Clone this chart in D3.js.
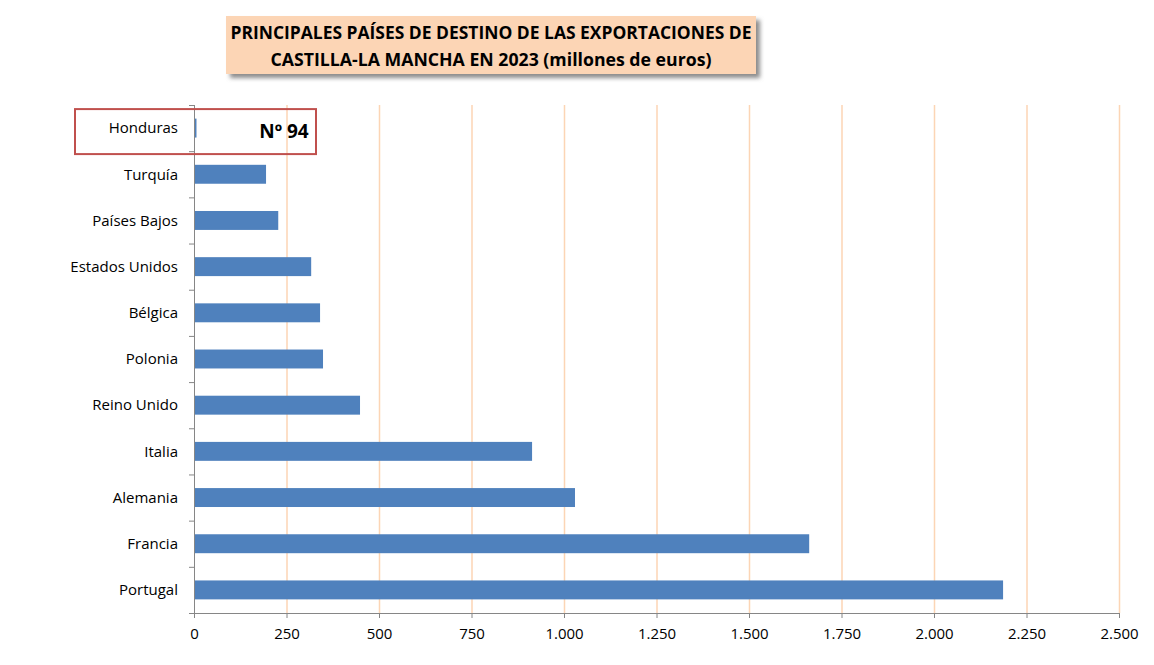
<!DOCTYPE html>
<html>
<head>
<meta charset="utf-8">
<script src="https://cdn.jsdelivr.net/npm/d3@7"></script>
<style>
  body { margin: 0; background: #fff; }
  text { font-family: "Open Sans", "Liberation Sans", sans-serif; fill: #000; }
</style>
</head>
<body>
<div id="chart"></div>
<script>
// data, top to bottom as drawn
var countries = ["Honduras", "Turquía", "Países Bajos", "Estados Unidos", "Bélgica",
                 "Polonia", "Reino Unido", "Italia", "Alemania", "Francia", "Portugal"];
var exports = [4, 192, 225, 314, 338, 346, 446, 911, 1027, 1660, 2184];
var xTicks = [0, 250, 500, 750, 1000, 1250, 1500, 1750, 2000, 2250, 2500];
var titleLines = ["PRINCIPALES PAÍSES DE DESTINO DE LAS EXPORTACIONES DE",
                  "CASTILLA-LA MANCHA EN 2023 (millones de euros)"];
var highlight = "Honduras", highlightLabel = "Nº 94";

var width = 1154, height = 665;
var margin = {top: 105, right: 35, bottom: 52, left: 194};

var data = countries.map(function(c, i) { return {country: c, value: exports[i]}; });

var svg = d3.select("#chart").append("svg")
    .attr("width", width)
    .attr("height", height);

var defs = svg.append("defs");
defs.append("filter")
    .attr("id", "shadow")
    .attr("x", "-5%").attr("y", "-20%")
    .attr("width", "110%").attr("height", "140%")
  .append("feGaussianBlur")
    .attr("stdDeviation", 2);

var x = d3.scaleLinear()
    .domain([0, 2500])
    .range([margin.left, 1119]);

var y = d3.scaleBand()
    .domain(countries)
    .range([margin.top, height - margin.bottom])
    .paddingInner(0.59)
    .paddingOuter(0.295);

var fmt = d3.format(",.0f");
var esFmt = function(d) { return fmt(d).replace(/,/g, "."); };

// grid
svg.append("g")
    .selectAll("line")
    .data(xTicks.slice(1))
    .enter().append("line")
    .attr("x1", function(d) { return x(d) + 0.5; })
    .attr("x2", function(d) { return x(d) + 0.5; })
    .attr("y1", margin.top)
    .attr("y2", height - margin.bottom)
    .attr("stroke", "#fcd5b5")
    .attr("stroke-width", 1.5);

// bars
svg.append("g")
    .selectAll("rect")
    .data(data)
    .enter().append("rect")
    .attr("x", x(0) + 1)
    .attr("y", function(d) { return y(d.country); })
    .attr("width", function(d) { return Math.max(x(d.value) - x(0), 1); })
    .attr("height", y.bandwidth())
    .attr("fill", "#4f81bd");

// x axis
var xAxis = svg.append("g")
    .attr("transform", "translate(0," + (height - margin.bottom) + ")")
    .call(d3.axisBottom(x).tickValues(xTicks).tickFormat(esFmt).tickSize(5).tickSizeOuter(0));
xAxis.select(".domain").attr("stroke", "#868686");
xAxis.selectAll(".tick line").attr("stroke", "#868686");
xAxis.selectAll(".tick text")
    .attr("dy", "0.75em")
    .attr("y", 15)
    .style("font-size", "15px")
    .style("font-family", "'Open Sans', sans-serif");

// y axis: ticks at band boundaries
var step = y.step();
svg.append("line")
    .attr("x1", x(0) + 0.5).attr("x2", x(0) + 0.5)
    .attr("y1", margin.top).attr("y2", height - margin.bottom)
    .attr("stroke", "#868686");
svg.append("g")
    .selectAll("line")
    .data(d3.range(countries.length + 1))
    .enter().append("line")
    .attr("x1", x(0) - 5).attr("x2", x(0))
    .attr("y1", function(i) { return margin.top + i * step + 0.5; })
    .attr("y2", function(i) { return margin.top + i * step + 0.5; })
    .attr("stroke", "#868686");

svg.append("g")
    .selectAll("text")
    .data(data)
    .enter().append("text")
    .attr("x", x(0) - 16)
    .attr("y", function(d) { return y(d.country) + y.bandwidth() / 2; })
    .attr("dy", "0.35em")
    .attr("text-anchor", "end")
    .style("font-size", "15px")
    .text(function(d) { return d.country; });

// highlight box
var hy = y(highlight) + y.bandwidth() / 2;
svg.append("rect")
    .attr("x", 75).attr("y", hy - 19)
    .attr("width", 241).attr("height", 45)
    .attr("fill", "none")
    .attr("stroke", "#c0504d")
    .attr("stroke-width", 2);
svg.append("text")
    .attr("x", 284)
    .attr("y", hy + 3)
    .attr("dy", "0.35em")
    .attr("text-anchor", "middle")
    .style("font-size", "19px")
    .style("font-weight", "bold")
    .text(highlightLabel);

// title box
var tb = {x: 226, y: 16, w: 530, h: 58};
svg.append("rect")
    .attr("x", tb.x + 4).attr("y", tb.y + 4)
    .attr("width", tb.w).attr("height", tb.h)
    .attr("fill", "#8c8c8c")
    .attr("filter", "url(#shadow)");
svg.append("rect")
    .attr("x", tb.x).attr("y", tb.y)
    .attr("width", tb.w).attr("height", tb.h)
    .attr("fill", "#fcd5b5");
svg.append("g")
    .selectAll("text")
    .data(titleLines)
    .enter().append("text")
    .attr("x", tb.x + tb.w / 2)
    .attr("y", function(d, i) { return 33 + i * 27; })
    .attr("dy", "0.35em")
    .attr("text-anchor", "middle")
    .attr("textLength", function(d, i) { return i === 0 ? 521 : 441; })
    .attr("lengthAdjust", "spacingAndGlyphs")
    .style("font-size", "17px")
    .style("font-weight", "bold")
    .text(function(d) { return d; });
</script>
</body>
</html>
